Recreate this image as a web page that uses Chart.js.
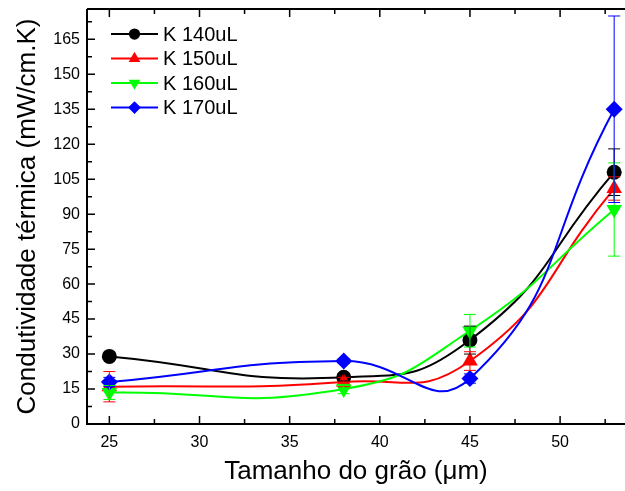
<!DOCTYPE html>
<html>
<head>
  <title>Condutividade térmica x Tamanho do grão</title>
  <script src="https://cdn.jsdelivr.net/npm/chart.js"></script>
  <style>
    html, body { margin: 0; padding: 0; background: #fff; overflow: hidden; }
    canvas { display: block; }
  </style>
</head>
<body>
  <canvas id="chart" width="625" height="491"></canvas>

  <script>
    // values
    const grainSize = [25, 38, 45, 53];
    const k140 = [29, 20, 36, 108];
    const k150 = [16, 18, 27, 101];
    const k160 = [13.5, 15, 40, 92];
    const k170 = [18, 27, 19.5, 135];
    // error bar half heights
    const k140Err = [0, 1.5, 6, 10];
    const k150Err = [6.5, 2, 4, 5];
    const k160Err = [3, 2, 7, 20];
    const k170Err = [2, 1, 2, 40];

    const seriesNames = ['K 140uL', 'K 150uL', 'K 160uL', 'K 170uL'];
    const xTicks = [25, 30, 35, 40, 45, 50];
    const yTicks = [0, 15, 30, 45, 60, 75, 90, 105, 120, 135, 150, 165];

    const FONT = 'Arial, "Liberation Sans", sans-serif';

    function points(ys) {
      return ys.map((y, i) => ({ x: grainSize[i], y: y }));
    }

    function makeSet(label, ys, errs, color, style, radius, rotation, order) {
      return {
        label: label,
        data: points(ys),
        errors: errs,
        showLine: true,
        borderColor: color,
        backgroundColor: color,
        borderWidth: 2,
        tension: 0.5,
        pointStyle: style,
        pointRadius: radius,
        pointRotation: rotation,
        pointBorderWidth: 0,
        pointBackgroundColor: color,
        clip: false,
        order: order
      };
    }

    // no auto padding from the tick labels, the box is placed by hand
    function noPad(s) {
      s.paddingTop = 0;
      s.paddingBottom = 0;
      s.paddingLeft = 0;
      s.paddingRight = 0;
    }

    // inward ticks and the box lines, the way the original plot has them
    const framePlugin = {
      id: 'frame',
      afterDraw(chart) {
        const { ctx, chartArea: a, scales: { x, y } } = chart;
        ctx.save();
        ctx.strokeStyle = '#000';
        ctx.lineWidth = 2;
        ctx.beginPath();
        ctx.moveTo(a.left, a.top);
        ctx.lineTo(a.left, a.bottom);
        ctx.lineTo(a.right, a.bottom);
        ctx.moveTo(a.left, a.top);
        ctx.lineTo(a.right, a.top);
        ctx.stroke();

        ctx.lineWidth = 1.5;
        ctx.beginPath();
        for (let v = 25; v <= 55; v += 2.5) {
          const px = x.getPixelForValue(v);
          if (px < a.left || px > a.right) continue;
          const len = (v % 5 === 0) ? 8 : 5;
          ctx.moveTo(px, a.bottom);
          ctx.lineTo(px, a.bottom - len);
          ctx.moveTo(px, a.top);
          ctx.lineTo(px, a.top + len);
        }
        for (let v = 0; v <= 180; v += 7.5) {
          const py = y.getPixelForValue(v);
          if (py < a.top || py > a.bottom) continue;
          const len = (v % 15 === 0) ? 8 : 5;
          ctx.moveTo(a.left, py);
          ctx.lineTo(a.left + len, py);
        }
        ctx.stroke();
        ctx.restore();
      }
    };

    const errorBarPlugin = {
      id: 'errorBars',
      afterDatasetsDraw(chart) {
        const { ctx, scales: { x, y } } = chart;
        ctx.save();
        ctx.lineWidth = 1;
        chart.data.datasets.forEach(ds => {
          ctx.strokeStyle = ds.borderColor;
          ds.data.forEach((p, i) => {
            const e = ds.errors[i];
            if (!e) return;
            const px = x.getPixelForValue(p.x);
            const top = y.getPixelForValue(p.y + e);
            const bot = y.getPixelForValue(p.y - e);
            ctx.beginPath();
            ctx.moveTo(px, top);
            ctx.lineTo(px, bot);
            ctx.moveTo(px - 6, top);
            ctx.lineTo(px + 6, top);
            ctx.moveTo(px - 6, bot);
            ctx.lineTo(px + 6, bot);
            ctx.stroke();
          });
        });
        ctx.restore();
      }
    };

    const legendPlugin = {
      id: 'boxLegend',
      afterDraw(chart) {
        const { ctx, chartArea: a } = chart;
        ctx.save();
        ctx.font = '20px ' + FONT;
        ctx.textBaseline = 'middle';
        chart.data.datasets.forEach((ds, i) => {
          const yy = a.top + 25 + i * 24.5;
          const x0 = a.left + 24;
          ctx.strokeStyle = ds.borderColor;
          ctx.lineWidth = 2;
          ctx.beginPath();
          ctx.moveTo(x0, yy);
          ctx.lineTo(x0 + 47, yy);
          ctx.stroke();
          ctx.fillStyle = ds.borderColor;
          Chart.helpers.drawPoint(ctx, {
            pointStyle: ds.pointStyle,
            radius: ds.pointRadius * 0.75,
            rotation: ds.pointRotation,
            borderWidth: 0
          }, x0 + 23.5, yy);
          ctx.fillStyle = '#000';
          ctx.fillText(ds.label, x0 + 52, yy + 1);
        });
        ctx.restore();
      }
    };

    new Chart(document.getElementById('chart'), {
      type: 'scatter',
      data: {
        datasets: [
          makeSet(seriesNames[0], k140, k140Err, '#000000', 'circle', 7.5, 0, 4),
          makeSet(seriesNames[1], k150, k150Err, '#ff0000', 'triangle', 9, 0, 3),
          makeSet(seriesNames[2], k160, k160Err, '#00ff00', 'triangle', 9, 180, 2),
          makeSet(seriesNames[3], k170, k170Err, '#0000ff', 'rectRot', 8.5, 0, 1)
        ]
      },
      options: {
        responsive: false,
        animation: false,
        layout: { autoPadding: false, padding: { top: 9, right: 0, left: 0, bottom: 0 } },
        plugins: {
          legend: { display: false },
          tooltip: { enabled: false }
        },
        scales: {
          x: {
            type: 'linear',
            min: 23.76,
            max: 53.6,
            afterBuildTicks: s => { s.ticks = xTicks.map(v => ({ value: v })); },
            afterFit: s => { s.height = 67; noPad(s); },
            grid: { display: false, drawTicks: false },
            border: { display: false },
            ticks: { color: '#000', font: { size: 16, family: FONT }, padding: 9, maxRotation: 0 },
            title: {
              display: true,
              text: 'Tamanho do grão (μm)',
              color: '#000',
              font: { size: 26, family: FONT },
              padding: { top: 0, bottom: 4 }
            }
          },
          y: {
            min: 0,
            max: 178,
            afterBuildTicks: s => { s.ticks = yTicks.map(v => ({ value: v })); },
            afterFit: s => { s.width = 87; noPad(s); },
            grid: { display: false, drawTicks: false },
            border: { display: false },
            ticks: { color: '#000', font: { size: 16, family: FONT }, padding: 7 },
            title: {
              display: true,
              text: 'Condutividade térmica (mW/cm.K)',
              color: '#000',
              font: { size: 26, family: FONT },
              padding: { top: 12, bottom: 0 }
            }
          }
        }
      },
      plugins: [framePlugin, errorBarPlugin, legendPlugin]
    });
  </script>
</body>
</html>
